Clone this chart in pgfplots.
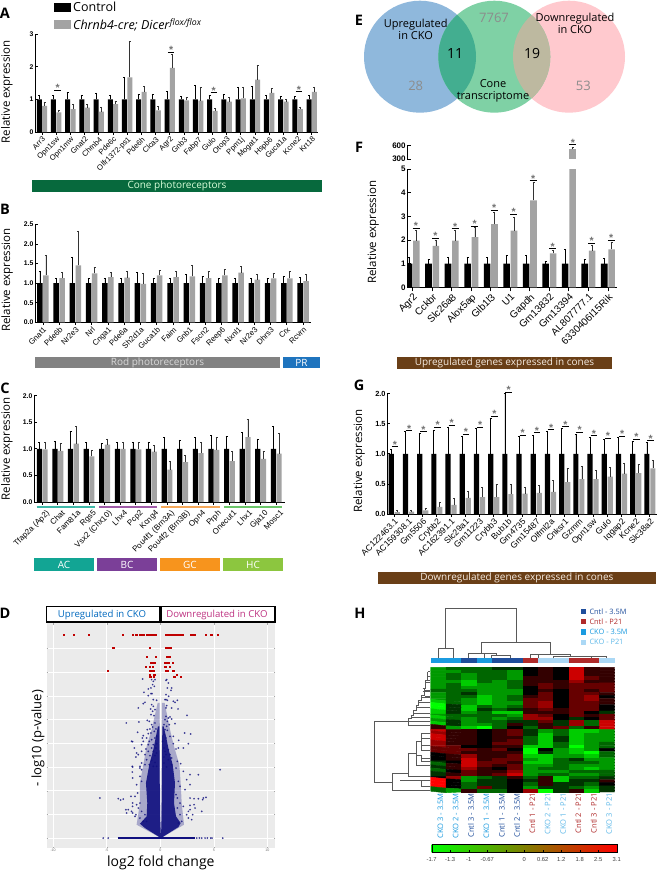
\documentclass[border=0pt]{standalone}
\usepackage{fontspec}
\usepackage{pgfplots}
\usepackage{pgfplotstable}
\pgfplotsset{compat=1.18}
\setmainfont{Open Sans}
\newfontfamily\arial{Liberation Sans}
\definecolor{gbar}{HTML}{A3A3A3}
\definecolor{navyd}{HTML}{10107F}
\definecolor{brownb}{HTML}{6A3F17}
\definecolor{c35}{HTML}{1F4E9C}
\definecolor{cp}{HTML}{B02A2A}
\definecolor{k35}{HTML}{1B9BE0}
\definecolor{kp}{HTML}{ABD8F5}
\definecolor{vblue}{HTML}{8FB8DC}
\definecolor{vgreen}{HTML}{7FD1A5}
\definecolor{vpink}{HTML}{FFC9CE}
\definecolor{vbg}{HTML}{43AE90}
\definecolor{vgp}{HTML}{BDB9A0}
\pgfplotsset{colormap={gkr}{rgb255=(0,255,0) rgb255=(0,0,0) rgb255=(255,0,0)}}
\newcommand{\fs}[1]{\fontsize{#1}{#1}\selectfont}
\pgfplotsset{
  /pgfplots/table/zf/.style={x expr=(\thisrowno{0}-211)/32.1,y expr=(505-\thisrowno{1})/71},
  barax/.style={scale only axis, ybar, clip mode=individual, axis x line*=bottom, axis y line*=left,
    /pgf/number format/assume math mode=true,
    axis line style={line width=.8pt}, tick style={black,line width=.8pt}, major tick length=2.5pt,
    xtick={0,1,...,30}, x tick label style={rotate=45,anchor=north east,inner sep=1pt,font=\arial\fs{7.6}},
    y tick label style={font=\arial\bfseries\fs{6.8},inner sep=1.5pt},
    ylabel style={font=\fs{11.5}}},
  ctl/.style={fill=black,draw=none,bar width=#1,error bars/y dir=plus,error bars/y explicit,error bars/error bar style={black,line width=.75pt},error bars/error mark options={rotate=90,mark size=1pt,line width=.5pt}},
  cko/.style={fill=gbar,draw=none,bar width=#1,error bars/y dir=plus,error bars/y explicit,error bars/error bar style={black!80,line width=.75pt},error bars/error mark options={rotate=90,mark size=1pt,line width=.5pt}},
  onedec/.style={y tick label style={/pgf/number format/fixed,/pgf/number format/fixed zerofill,/pgf/number format/precision=1}}
}
\newcommand{\sig}[3][3.2pt]{\draw[black,line width=.8pt] (axis cs:#2,#3) ++(-#1,0pt) -- ++(2*#1,0pt);
  \node[inner sep=0pt,text=black!55,font=\arial\bfseries\fs{10.5},yshift=2.2pt] at (axis cs:#2,#3) {*};}
\newcommand{\cbar}[7][white]{\fill[#6] (#2,#3) rectangle (#4,#5); \node[text=#1,font=\fs{10},inner sep=0] at ({(#2+#4)/2},{(#3+#5)/2}) {#7};}
\pgfplotstableread{
x v1 t1 v2 t2
0 1 1.13 0.80 0.90
1 1 1.13 0.60 0.67
2 1 1.22 0.70 0.86
3 1 1.12 0.75 0.85
4 1 1.20 0.62 0.77
5 1 1.12 0.85 0.95
6 1 1.68 1.67 2.77
7 1 1.15 1.23 1.40
8 1 1.17 0.66 0.79
9 1 1.25 1.96 2.37
10 1 1.10 0.97 1.07
11 1 1.42 0.96 1.37
12 1 1.13 0.65 0.72
13 1 1.16 0.93 1.07
14 1 1.37 1.03 1.38
15 1 1.40 1.60 2.03
16 1 1.12 1.20 1.33
17 1 1.10 0.93 1.00
18 1 1.10 0.70 0.77
19 1 1.13 1.23 1.38
}\tabA
\pgfplotstableread{
x v1 t1 v2 t2
0 1 1.30 1.20 1.70
1 1 1.13 1.13 1.27
2 1 1.67 1.45 2.33
3 1 1.12 1.25 1.40
4 1 1.12 1.15 1.27
5 1 1.12 1.14 1.29
6 1 1.27 0.98 1.24
7 1 1.12 1.20 1.33
8 1 1.12 1.15 1.29
9 1 1.22 1.17 1.45
10 1 1.17 1.13 1.30
11 1 1.12 1.20 1.35
12 1 1.12 1.27 1.42
13 1 1.12 1.09 1.22
14 1 1.12 1.12 1.26
15 1 1.17 1.12 1.30
16 1 1.15 1.05 1.22
}\tabB
\pgfplotstableread{
x v1 t1 v2 t2
0 1 1.12 0.99 1.12
1 1 1.15 0.96 1.10
2 1 1.33 1.10 1.43
3 1 1.12 0.86 0.97
4 1 1.10 1.08 1.19
5 1 1.12 1.00 1.12
6 1 1.13 0.99 1.12
7 1 1.13 0.95 1.07
8 1 1.21 0.61 0.77
9 1 1.17 0.75 0.88
10 1 1.21 0.92 1.12
11 1 1.25 0.98 1.22
12 1 1.23 0.77 0.95
13 1 1.31 1.22 1.56
14 1 1.19 0.81 0.96
15 1 1.43 0.91 1.30
}\tabC
\pgfplotstableread{
x v1 t1 v2 t2
0 1 1.27 1.97 2.40
1 1 1.18 1.75 2.00
2 1 1.27 1.97 2.40
3 1 1.27 2.12 2.52
4 1 1.27 2.67 3.18
5 1 1.35 2.40 2.95
6 1 1.35 3.67 4.43
7 1 1.10 1.43 1.56
8 1 1.60 525 525
9 1 1.18 1.55 1.78
10 1 1.22 1.60 1.90
}\tabF
\pgfplotstableread{
x v1 t1 v2 t2
8 0 0 525 562
}\tabFu
\pgfplotstableread{
x v1 t1 v2 t2
0 1 1.07 0.03 0.06
1 1 1.38 0.04 0.07
2 1 1.35 0.06 0.09
3 1 1.39 0.12 0.20
4 1 1.45 0.15 0.26
5 1 1.30 0.27 0.38
6 1 1.42 0.28 0.44
7 1 1.60 0.28 0.49
8 1 2.00 0.33 0.49
9 1 1.30 0.34 0.45
10 1 1.31 0.35 0.47
11 1 1.38 0.37 0.56
12 1 1.42 0.53 0.76
13 1 1.33 0.58 0.79
14 1 1.27 0.58 0.73
15 1 1.25 0.62 0.78
16 1 1.27 0.67 0.85
17 1 1.21 0.68 0.83
18 1 1.19 0.76 0.90
}\tabG
\newcommand{\bars}[4]{%
  \addplot[ctl=#2,bar shift=-#3] table[x=x,y=v1,y error expr=\thisrow{t1}-\thisrow{v1}] {#1};
  \addplot[cko=#2,bar shift=#3] table[x=x,y=v2,y error expr=\thisrow{t2}-\thisrow{v2}] {#1};}
\begin{document}
\begin{tikzpicture}
\useasboundingbox (0pt,0pt) rectangle (657pt,-872pt);
\fill[white] (0pt,0pt) rectangle (657pt,-872pt);
% ---------- A
\begin{axis}[barax, at={(35pt,-132pt)}, anchor=south west, width=283pt, height=98pt,
  xmin=-0.49, xmax=19.44, ymin=0, ymax=3, ytick={0,1,2,3},
  xticklabels={Arr3,Opn1sw,Opn1mw,Gnat2,Chrnb4,Pde6c,Olfr1372-ps1,Pde6h,Clca3,Agr2,Gnb3,Fabp7,Gulo,Otop3,Ppm1j,Mogat1,Hspb6,Guca1a,Kcne2,Krt18},
  ylabel={Relative expression}, ylabel style={at={(axis description cs:-0.099,0.41)},anchor=center},
  legend style={at={(axis description cs:0.0671,1.35)},anchor=north west,draw=none,fill=none,font=\fs{12.5},row sep=1.5pt,inner sep=0pt,/tikz/every even column/.append style={column sep=0pt}},
  legend image code/.code={\fill[#1] (0pt,-4.5pt) rectangle (17pt,4.5pt);}, legend cell align=left]
\bars{\tabA}{5pt}{2.7pt}{}
\addlegendentry{Control}
\addlegendentry{\textit{Chrnb4-cre; Dicer}\textsuperscript{\textit{flox/flox}}}
\sig{1.1}{1.28}\sig{9.1}{2.44}\sig{12.1}{1.2}\sig{18.1}{1.23}
\end{axis}
% ---------- B
\begin{axis}[barax, onedec, at={(35pt,-322.3pt)}, anchor=south west, width=276pt, height=98pt,
  xmin=-0.49, xmax=16.49, ymin=0, ymax=2.5, ytick={0,0.5,...,2.5},
  x tick label style={font=\arial\fs{7.8}},
  xticklabels={Gnat1,Pde6b,Nr2e3,Nrl,Cnga1,Pde6a,Sh2d1a,Guca1b,Faim,Gnb1,Fscn2,Reep6,Nxnl1,Nr2e3,Dhrs3,Crx,Rcvrn},
  ylabel={Relative expression}, ylabel style={at={(axis description cs:-0.101,0.43)},anchor=center}]
\bars{\tabB}{5.5pt}{3pt}{}
\end{axis}
% ---------- C
\begin{axis}[barax, onedec, at={(34pt,-502pt)}, anchor=south west, width=251pt, height=106.3pt,
  xmin=-0.526, xmax=15.56, ymin=0, ymax=2, ytick={0,0.5,...,2},
  x tick label style={yshift=-5pt,font=\arial\fs{8}},
  xticklabels={Tfap2a (Ap2),Chat,Fam81a,Rgs5,Vsx2 (Chx10),Lhx4,Pcp2,Kcng4,Pou4f1 (Brn3A),Pou4f2 (Brn3B),Opn4,Prph,Onecut1,Lhx1,Gja10,Mosc1},
  ylabel={Relative expression}, ylabel style={at={(axis description cs:-0.108,0.5)},anchor=center}]
\bars{\tabC}{5.2pt}{2.85pt}{}
\end{axis}
% ---------- D
\begin{axis}[scale only axis, at={(46.7pt,-848pt)}, anchor=south west, width=228.3pt, height=225pt,
  xmin=-10.6, xmax=10.7, ymin=-0.42, ymax=9.08,
  axis background/.style={fill=black!8}, axis line style={draw=none},
  xtick={-10,-5,0,5,10}, ytick={0,1,...,8}, yticklabels={}, grid=major, grid style={white,line width=.5pt},
  tick style={black!35,line width=.3pt}, major tick length=1.5pt,
  x tick label style={font=\arial\fs{3.6},text=black!55,inner sep=1pt},
  /pgf/number format/assume math mode=true,
  xlabel={log2 fold change}, xlabel style={font=\fs{14},at={(axis description cs:0.5,-0.067)},anchor=center},
  ylabel={- log10 (p-value)}, ylabel style={font=\fs{13},at={(axis description cs:-0.038,0.488)},anchor=center}]
% haze of the funnel
\addplot[fill=navyd,fill opacity=.3,draw=none] table[zf,header=false] {
213 505
140 465
150 400
150 340
160 285
170 230
185 180
203 100
209 100
210 300
213 505
};
\addplot[fill=navyd,fill opacity=.3,draw=none] table[zf,header=false] {
213 505
215 300
216 100
224 100
240 180
252 230
268 285
272 340
275 400
282 465
213 505
};
% dense core of the funnel
\addplot[fill=navyd,fill opacity=.9,draw=none] table[zf,header=false] {
213 505
165 475
150 462
170 440
172 400
168 340
178 285
190 240
198 200
204 170
208 170
209 300
210 440
213 505
};
\addplot[fill=navyd,fill opacity=.9,draw=none] table[zf,header=false] {
213 505
215 440
216 300
217 170
221 170
228 200
236 240
248 285
255 340
252 400
258 440
272 460
265 472
213 505
};
% zero line
\addplot[navyd,line width=1.3pt] table[zf,header=false] {
83 505
315 505
};
% single genes
\addplot[color=navyd,only marks,mark=*,mark size=.7pt,opacity=.65] table[zf,header=false] {
158 28
185 30
190 35
195 30
188 45
193 50
183 55
230 30
235 40
228 32
232 55
245 55
162 68
175 58
183 72
186 72
175 78
190 90
200 92
243 62
228 75
236 80
228 90
232 92
165 98
160 102
225 90
250 95
262 92
255 98
230 108
228 115
245 115
264 118
145 115
185 105
190 110
182 118
195 120
188 125
183 135
192 138
172 152
178 155
147 157
109 160
228 140
235 145
240 142
225 150
232 155
245 148
222 165
238 165
255 162
230 170
291 137
185 165
195 160
188 172
180 178
172 180
198 178
193 185
183 190
175 192
143 188
160 198
157 205
125 215
128 216
225 180
232 182
222 195
240 200
228 205
218 215
250 200
284 190
302 193
266 212
250 222
295 222
280 235
265 235
258 238
200 200
195 205
185 210
178 215
170 205
160 215
155 225
175 225
190 225
200 222
198 235
185 235
168 238
133 235
140 250
145 255
138 262
155 245
175 245
190 245
165 255
180 258
195 258
200 250
222 235
225 245
235 240
228 255
222 262
240 255
245 265
235 270
222 280
262 275
272 282
245 285
170 270
185 272
195 278
155 280
165 285
178 285
190 290
150 295
128 292
200 290
230 292
258 295
127 290
127 307
128 325
150 290
155 300
150 320
155 335
140 345
143 370
135 380
123 380
30 385
85 387
92 391
100 388
128 400
128 410
108 420
115 420
125 425
128 430
110 430
140 405
150 400
145 415
135 440
150 445
160 455
170 455
165 435
155 425
138 435
280 305
300 315
325 315
290 330
300 345
285 360
270 350
265 335
300 385
312 387
325 387
340 385
348 383
338 390
280 410
300 407
312 405
315 415
335 425
300 420
295 425
290 435
308 435
295 445
305 450
275 455
265 460
270 435
262 415
270 400
262 385
258 375
390 300
40 505
55 505
320 505
328 505
335 505
345 505
352 505
362 505
366 505
398 505
};
% significant genes
\addplot[color=red!75!black,only marks,mark=square*,mark size=.6pt] table {
-9.0 8.6
-8.1 8.6
-6.7 8.6
-3.5 8.6
-2.6 8.6
-2.3 8.6
-2.2 8.6
-1.9 8.6
-1.7 8.6
-1.6 8.6
-1.3 8.6
-1.2 8.6
-1.1 8.6
-1.0 8.6
-0.9 8.6
-0.8 8.6
-0.7 8.6
-0.6 8.6
-0.5 8.6
-0.4 8.6
0.5 8.6
0.6 8.6
0.7 8.6
0.8 8.6
0.9 8.6
1.0 8.6
1.1 8.6
1.2 8.6
1.3 8.6
1.4 8.6
1.5 8.6
1.6 8.6
1.7 8.6
1.9 8.6
2.1 8.6
2.8 8.6
2.9 8.6
3.0 8.6
3.1 8.6
3.2 8.6
4.25 8.6
4.75 8.6
5.35 8.6
-4.4 8.03
-1.0 8.03
0.55 8.03
0.65 8.03
0.8 8.03
0.9 8.03
1.0 8.03
-1.3 7.66
-0.45 7.66
0.6 7.66
0.7 7.66
0.85 7.66
-0.9 7.4
-0.7 7.4
-0.6 7.4
-0.5 7.4
0.4 7.4
0.5 7.4
0.6 7.4
0.7 7.4
0.8 7.4
1.15 7.4
-1.35 7.22
-1.0 7.22
-0.7 7.22
0.45 7.22
0.9 7.22
-4.9 7.07
-0.95 7.07
-0.7 7.07
-0.6 7.07
0.5 7.07
0.6 7.07
0.7 7.07
1.2 7.07
-1.0 6.9
-0.65 6.9
-0.55 6.9
1.55 6.9
-0.95 6.82
-0.65 6.82
1.25 6.82
1.35 6.82
1.9 6.82
};
\end{axis}
% ---------- F
\begin{axis}[barax, at={(407.3pt,-287.3pt)}, anchor=south west, width=210pt, height=118.3pt,
  xmin=-0.276, xmax=10.48, ymin=0, ymax=5, ytick={0,1,...,5},
  y tick label style={font=\arial\bfseries\fs{8}}, x tick label style={font=\arial\fs{10}},
  major tick length=4pt,
  xticklabels={Agr2,Cckbr,Slc26a8,Alox5ap,Glb1l3,U1,Gapdh,Gm13832,Gm13394,AL807777.1,6330406I15Rik},
  ylabel={Relative expression}, ylabel style={at={(axis description cs:-0.163,0.466)},anchor=center}]
\bars{\tabF}{6.6pt}{3.7pt}{}
\sig[3.5pt]{0.17}{2.49}\sig[3.5pt]{1.17}{2.07}\sig[3.5pt]{2.17}{2.48}\sig[3.5pt]{3.17}{2.59}\sig[3.5pt]{4.17}{3.27}
\sig[3.5pt]{5.17}{3.08}\sig[3.5pt]{6.17}{4.5}\sig[3.5pt]{7.17}{1.63}\sig[3.5pt]{9.17}{1.86}\sig[3.5pt]{10.17}{2.0}
\end{axis}
\begin{axis}[barax, at={(407.3pt,-159pt)}, anchor=south west, width=210pt, height=13.3pt,
  xmin=-0.276, xmax=10.48, ymin=300, ymax=600, ytick={300,600}, axis x line=none,
  y tick label style={font=\arial\bfseries\fs{8}}, major tick length=4pt, xticklabels={}]
\addplot[cko=6.6pt,bar shift=3.7pt] table[x=x,y=v2,y error expr=\thisrow{t2}-\thisrow{v2}] {\tabFu};
\sig[3.5pt]{8.2}{625}
\end{axis}
% ---------- G
\begin{axis}[barax, onedec, at={(387.3pt,-514pt)}, anchor=south west, width=269.4pt, height=120.3pt,
  xmin=-0.49, xmax=18.48, ymin=0, ymax=2, ytick={0,0.5,...,2},
  y tick label style={font=\arial\bfseries\fs{7.4}}, x tick label style={font=\arial\fs{8.6}},
  xticklabels={AC122463.1,AC159308.1,Gm5506,Crybb2,AC162391.1,Slc29a1,Gm11223,Crybb3,Bub1b,Gm4735,Gm15487,Olfml2a,Cnksr1,Gzmm,Opn1sw,Gulo,Iqgap2,Kcne2,Slc38a2},
  ylabel={Relative expression}, ylabel style={at={(axis description cs:-0.105,0.44)},anchor=center}]
\bars{\tabG}{5.2pt}{3pt}{}
\sig{0.05}{1.12}\sig{1.05}{1.385}\sig{2.05}{1.37}\sig{3.05}{1.44}\sig{4.05}{1.48}\sig{5.05}{1.33}\sig{6.05}{1.44}\sig{7.05}{1.62}\sig{8.05}{2.03}
\sig{9.05}{1.31}\sig{10.05}{1.35}\sig{11.05}{1.4}\sig{12.05}{1.45}\sig{13.05}{1.36}\sig{14.05}{1.3}\sig{15.05}{1.26}\sig{16.05}{1.29}\sig{17.05}{1.24}\sig{18.05}{1.22}
\end{axis}
% ---------- H
\begin{axis}[scale only axis, at={(430.7pt,-792pt)}, anchor=south west, width=184pt, height=124.7pt,
  xmin=-0.5, xmax=11.5, ymin=-0.5, ymax=39.5, y dir=reverse,
  axis line style={draw=none}, xtick={0,1,...,11}, ytick={0,1,...,39}, yticklabels={},
  xtick pos=bottom, ytick pos=right, enlargelimits=false,
  x tick style={draw=none}, y tick style={black,line width=.35pt}, major tick length=4pt,
  colormap name=gkr, point meta min=-5, point meta max=5,
  x tick label style={rotate=90,anchor=east,font=\fs{7.6},inner sep=1pt,yshift=-2pt},
  xticklabels={\textcolor{k35}{CKO 3 - 3.5M},\textcolor{k35}{CKO 2 - 3.5M},\textcolor{c35}{Cntl 3 - 3.5M},\textcolor{k35}{CKO 1 - 3.5M},\textcolor{c35}{Cntl 1 - 3.5M},\textcolor{c35}{Cntl 2 - 3.5M},\textcolor{cp}{Cntl 1 - P21},\textcolor{k35!70}{CKO 2 - P21},\textcolor{k35!70}{CKO 1 - P21},\textcolor{cp}{Cntl 2 - P21},\textcolor{cp}{Cntl 3 - P21},\textcolor{k35!70}{CKO 3 - P21}}]
\addplot[matrix plot*,mesh/cols=12,point meta=explicit] table[header=false,row sep=\\,x expr={mod(\coordindex,12)},y expr={floor(\coordindex/12)},meta index=0] {
-3\\-2\\-2\\-2\\-1\\-1\\0\\1\\0\\4\\1\\1\\
-3\\-3\\-2\\-2\\-2\\-3\\0\\1\\0\\4\\1\\1\\
-3\\-2\\-3\\-2\\-2\\-3\\0\\1\\0\\4\\1\\1\\
-3\\-2\\-3\\-2\\-2\\-3\\1\\1\\0\\4\\2\\1\\
-3\\-3\\-4\\-2\\-3\\-2\\1\\1\\1\\3\\1\\1\\
-3\\-2\\-4\\-3\\-3\\-2\\1\\2\\1\\2\\2\\2\\
-3\\-2\\-3\\-3\\-3\\-2\\0\\2\\1\\2\\2\\2\\
-2\\-2\\-2\\-3\\-3\\-3\\0\\1\\0\\2\\1\\2\\
-3\\-2\\-1\\-3\\-3\\-3\\0\\2\\0\\2\\2\\1\\
-3\\-2\\-2\\-4\\-3\\-2\\1\\2\\0\\2\\3\\0\\
-3\\-2\\-3\\-4\\-3\\-2\\2\\2\\0\\2\\3\\1\\
-4\\-2\\-3\\-4\\-3\\-3\\2\\3\\0\\2\\2\\1\\
-5\\-1\\-4\\-2\\-3\\-2\\2\\3\\0\\2\\2\\0\\
-5\\-1\\-4\\-1\\-2\\-1\\1\\2\\1\\2\\2\\0\\
-4\\-1\\-3\\-2\\-4\\-4\\1\\1\\1\\2\\0\\-1\\
-3\\-2\\-2\\-2\\-2\\-3\\3\\2\\0\\2\\1\\2\\
-4\\-2\\-3\\-2\\-3\\-2\\3\\3\\0\\-1\\0\\2\\
-3\\-1\\-3\\-2\\-2\\-1\\-1\\2\\-1\\3\\-2\\4\\
-4\\-1\\-3\\-3\\-2\\1\\-1\\1\\-1\\3\\-2\\4\\
1\\-3\\-4\\-5\\-2\\0\\-2\\1\\2\\-2\\1\\4\\
4\\1\\1\\0\\1\\2\\-1\\-3\\-2\\-4\\-4\\-3\\
3\\1\\1\\0\\1\\2\\-1\\-4\\-2\\-4\\-3\\-3\\
4\\1\\1\\0\\1\\1\\-2\\-4\\-1\\-4\\-3\\-3\\
4\\1\\1\\0\\1\\2\\-2\\-4\\-1\\-4\\-3\\-3\\
3\\1\\1\\0\\2\\2\\-2\\-4\\-2\\-4\\-3\\-2\\
3\\2\\0\\0\\1\\1\\-4\\-4\\-2\\-5\\-3\\-2\\
2\\2\\2\\1\\2\\0\\-5\\0\\-3\\-4\\-3\\0\\
2\\2\\1\\1\\1\\1\\-5\\-1\\-3\\-4\\-5\\-2\\
0\\1\\3\\1\\1\\2\\-4\\-4\\-3\\-3\\-4\\-2\\
0\\1\\4\\1\\2\\2\\-3\\-4\\-2\\-1\\-3\\-3\\
-1\\0\\4\\2\\2\\1\\-4\\-4\\-2\\-2\\-2\\-3\\
-2\\1\\4\\2\\1\\2\\-3\\-3\\-2\\-3\\-3\\-3\\
-1\\1\\3\\1\\0\\2\\-3\\-2\\-2\\-3\\-4\\-3\\
-2\\0\\2\\1\\1\\3\\-3\\-3\\-3\\-2\\-2\\-2\\
-1\\1\\2\\1\\2\\4\\-3\\-2\\-2\\-3\\-3\\-2\\
0\\3\\-3\\-2\\-1\\1\\-2\\1\\-4\\-2\\-2\\-1\\
5\\0\\-3\\-1\\-1\\0\\-1\\1\\-4\\-1\\-1\\1\\
5\\0\\-2\\-1\\-1\\0\\-2\\1\\-1\\-1\\-2\\0\\
5\\0\\-2\\2\\-1\\0\\-3\\-1\\-1\\-2\\-3\\-1\\
-2\\-3\\1\\-2\\-2\\0\\3\\-5\\-1\\1\\-4\\-1\\
};
\end{axis}
% colour key
\begin{axis}[scale only axis, at={(431.7pt,-852.3pt)}, anchor=south west, width=185pt, height=8.3pt,
  xmin=-5, xmax=5, ymin=0, ymax=1, ytick=\empty, xtick={-5,-4,...,5}, xtick pos=bottom,
  xticklabels={-1.7,-1.3,-1,-0.67,,0,0.62,1.2,1.8,2.5,3.1},
  /pgf/number format/assume math mode=true,
  axis background/.style={left color=green,middle color=black,right color=red},
  axis line style={black,line width=.4pt}, tick style={black,line width=.4pt}, major tick length=2pt,
  x tick label style={font=\arial\fs{5.8},text=black!75,inner sep=1pt,yshift=-4pt}]
\end{axis}
% ---------- free drawing, in pixels from the top left of the figure
\begin{scope}[x=1pt,y=-1pt]
\foreach \t/\a/\b in {A/5/13,B/5/209,C/5/388,D/5/613,E/359/20,F/359/147,G/359/385,H/360/613}
  \node[font=\bfseries\fs{14.5},inner sep=0] at (\a,\b) {\t};
\definecolor{bcone}{HTML}{07693D}\definecolor{brod}{HTML}{828282}\definecolor{bpr}{HTML}{1F74BE}
\definecolor{bac}{HTML}{12A594}\definecolor{bbc}{HTML}{7B3F98}\definecolor{bgc}{HTML}{F7941D}\definecolor{bhc}{HTML}{8CC63F}
\definecolor{lac}{HTML}{3FB8A8}\definecolor{lbc}{HTML}{A05CA8}\definecolor{lgc}{HTML}{F5A85A}\definecolor{lhc}{HTML}{6CC66A}
\cbar[white!85!green]{32}{180}{322}{192}{bcone}{Cone photoreceptors}
\cbar[white!85!black]{35}{357}{280}{368}{brod}{Rod photoreceptors}
\cbar[white]{283}{357}{320}{368}{bpr}{PR}
\foreach \p/\q/\c in {36.7/95/lac,99/157.3/lbc,161.3/220/lgc,224/282/lhc}
  \draw[\c,line width=1.7pt] (\p,506.7)--(\q,506.7);
\cbar[white]{34}{558}{94}{571}{bac}{AC}
\cbar[white]{97}{558}{157}{571}{bbc}{BC}
\cbar[white]{160}{558}{220}{571}{bgc}{GC}
\cbar[white]{223}{558}{283}{571}{bhc}{HC}
\cbar[white!85!brown]{397}{356.7}{612}{369}{brownb}{Upregulated genes expressed in cones}
\cbar[white!85!brown]{377.7}{572}{656}{584}{brownb}{Downregulated genes expressed in cones}
% D headers
\draw[black,line width=1.1pt] (46.7,606.7) rectangle (160,622);
\draw[black,line width=1.1pt] (161.3,606.7) rectangle (275,622);
\node[font=\fs{9.6},text=blue!45!cyan!75!black,inner sep=0] at (102,614.6) {Upregulated in CKO};
\node[font=\fs{9.6},text=magenta!75!black,inner sep=0] at (217,614.6) {Downregulated in CKO};
% E venn
\def\ca{(420,56.7) circle (56)}\def\cb{(494.3,56.7) circle (56)}\def\cc{(569,56.7) circle (56)}
\fill[vblue] \ca;
\fill[vpink] \cc;
\fill[vgreen] \cb;
\begin{scope}\clip \ca; \fill[vbg] \cb;\end{scope}
\begin{scope}\clip \cc; \fill[vgp] \cb;\end{scope}
\node[font=\fs{11},align=center,inner sep=0] at (415.7,29) {Upregulated\\[1pt]in CKO};
\node[font=\fs{11},align=center,inner sep=0] at (575,23) {Downregulated\\[1pt]in CKO};
\node[font=\fs{11},align=center,inner sep=0] at (493,90.5) {Cone\\[1pt]transcriptome};
\node[font=\fs{13},text=black!45,inner sep=0] at (494,18) {7767};
\node[font=\fs{13},text=black!45,inner sep=0] at (415.7,85.7) {28};
\node[font=\fs{13},text=black!45,inner sep=0] at (583.3,85.7) {53};
\node[font=\fs{14},inner sep=0] at (455,54) {11};
\node[font=\fs{14},inner sep=0] at (532,54) {19};
% H column key and legend
\foreach \i/\c in {0/k35,1/k35,2/c35,3/k35,4/c35,5/c35,6/cp,7/kp,8/kp,9/cp,10/cp,11/kp}
  \fill[\c] ({430.7+\i*15.33},658.3) rectangle ({430.7+(\i+1)*15.33+.2},663.3);
\foreach \y/\s/\c/\t in {611.3/c35/c35/Cntl - 3.5M,621.7/cp/cp/Cntl - P21,632/k35/k35/CKO - 3.5M,642.3/kp/k35!70/CKO - P21}{
  \fill[\s] (581,\y-2.6) rectangle (586,\y+2.6);
  \node[anchor=west,font=\fs{7.4},text=\c,inner sep=0] at (589.3,\y) {\t};}
\end{scope}
% H dendrograms, traced in the 3x crop
\begin{scope}[x=.33333pt,y=-.33333pt,shift={(340pt,-590pt)},draw=black!65,line width=.5pt]
\draw (317,175)|-(528,56)--(528,157);
\draw (294,205)|-(341,175)--(341,205);
\draw (425,190)|-(631,157)--(631,193);
\draw (385,205)|-(470,191)--(470,197);
\draw (432,205)--(432,191);
\draw (455,205)|-(510,197)--(510,205);
\draw (572,205)|-(690,193)--(690,198);
\draw (640,205)|-(800,198)--(800,205);
\draw (755,205)--(755,198);
\draw (595,205)--(595,193);
\draw (103,577)|-(205,395);
\draw (103,577)--(157,577);
\draw (205,385)--(205,405)--(270,405);
\foreach \x/\y/\u in {205/385/375,212/375/362,220/362/345,228/345/330,236/330/315,244/315/295,248/295/270,255/270/245}
  {\draw (\x,\y)--(\x+8,\y)--(\x+8,\u); \draw (\x,\y+8)--(270,\y+8);}
\draw (263,245)--(270,245) (263,258)--(270,258) (263,270)--(270,270) (255,300)--(270,300) (255,320)--(270,320);
\draw (157,550)--(157,600) (157,600)--(270,600);
\draw (157,550)--(205,550);
\draw (205,490)--(205,560)--(270,560);
\draw (205,490)--(228,490);
\draw (228,455)--(228,525)--(270,525);
\draw (228,455)--(245,455);
\draw (245,430)--(245,480)--(270,480);
\draw (245,430)--(270,430) (245,445)--(270,445) (245,465)--(270,465);
\draw (245,505)--(270,505) (245,495)--(245,515)--(270,515) (228,495)--(245,495);
\draw (180,570)--(245,570)--(245,590)--(270,590) (245,570)--(270,570);
\end{scope}
\end{tikzpicture}
\end{document}
